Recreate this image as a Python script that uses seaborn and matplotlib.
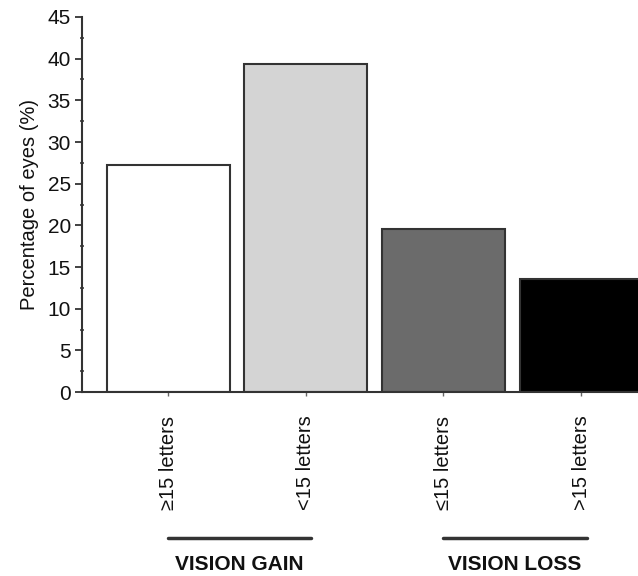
import numpy as np
import pandas as pd
import matplotlib
matplotlib.use("Agg")
import matplotlib.pyplot as plt
import matplotlib.ticker as ticker
import matplotlib.transforms as mtransforms
import seaborn as sns

# datos
categorias = ["≥15 letters", "<15 letters", "≤15 letters", ">15 letters"]
porcentajes = [27.2, 39.3, 19.6, 13.6]
colores = ["#ffffff", "#d4d4d4", "#6b6b6b", "#000000"]
grupos = ["VISION GAIN", "VISION LOSS"]
grupo_idx = [(0, 1), (2, 3)]

sns.set_style("ticks")
plt.rcParams['font.family'] = ['Liberation Sans', 'DejaVu Sans']
plt.rcParams['text.color'] = "#111111"

df = pd.DataFrame({"cat": categorias, "pct": porcentajes})

fig = plt.figure(figsize=(6.38, 5.76), dpi=100)
ax = fig.add_axes([0.1285, 0.3194, 0.8715, 0.6511])

sns.barplot(data=df, x="cat", y="pct", hue="cat", order=categorias,
            hue_order=categorias, palette=colores, legend=False,
            width=0.893, edgecolor="#333333", linewidth=1.5, saturation=1, ax=ax)

ax.set_xlim(-0.625, 3.413)
ax.set_ylim(0, 45)
ax.yaxis.set_major_locator(ticker.MultipleLocator(5))
ax.yaxis.set_minor_locator(ticker.MultipleLocator(2.5))
ax.set_xlabel("")
ax.set_ylabel("Percentage of eyes (%)", fontsize=14.5, labelpad=6, color="#111111")

for s in ["top", "right"]:
    ax.spines[s].set_visible(False)
for s in ["left", "bottom"]:
    ax.spines[s].set_linewidth(1.5)
    ax.spines[s].set_color("#333333")

ax.tick_params(axis="y", which="major", length=5, width=1.3, color="#333333",
               labelsize=15, pad=3, labelcolor="#111111")
ax.tick_params(axis="y", which="minor", length=3, width=1.1, color="#333333",
               direction="inout")
ax.tick_params(axis="x", which="major", length=3, width=1, color="#666666",
               labelsize=14.5, pad=14, labelrotation=90, labelcolor="#111111")

# lineas y rotulos de grupo
trans = mtransforms.blended_transform_factory(ax.transData, ax.transAxes)
for nombre, (a, b) in zip(grupos, grupo_idx):
    ax.plot([a, b + 0.04], [-0.389, -0.389], color="#333333", lw=2.5,
            transform=trans, clip_on=False)
    ax.text((a + b + 0.04) / 2, -0.486, nombre, transform=trans, ha="center",
            va="bottom", fontsize=15, fontweight="bold", color="#111111")

fig.savefig("out.png", dpi=100)
